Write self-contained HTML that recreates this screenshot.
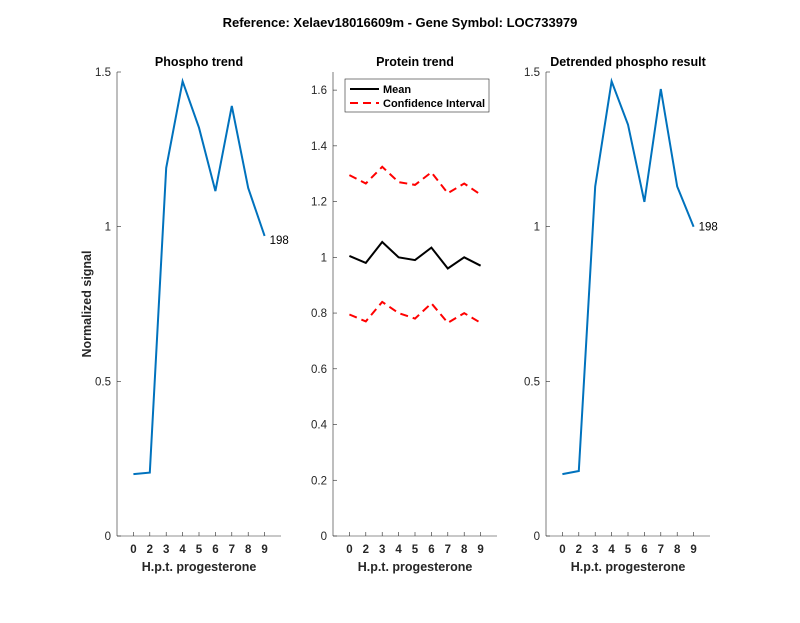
<!DOCTYPE html>
<html><head><meta charset="utf-8"><style>
body{margin:0;background:#fff}
svg text{font-family:"Liberation Sans",Arial,sans-serif}
</style></head><body>
<svg id="s" width="800" height="618" viewBox="0 0 800 618" xmlns="http://www.w3.org/2000/svg">
<rect width="800" height="618" fill="#fff"/>
<text x="400" y="27" font-size="13" font-weight="bold" text-anchor="middle" fill="#000">Reference:  Xelaev18016609m - Gene Symbol:  LOC733979</text>
</svg>
<script>
var s=document.getElementById('s'),NS='http://www.w3.org/2000/svg';
function el(t,a,txt){var e=document.createElementNS(NS,t);for(var k in a)e.setAttribute(k,a[k]);if(txt!=null)e.textContent=txt;s.appendChild(e);return e;}
var labs=['0','2','3','4','5','6','7','8','9'];
function axes(x0,ymax,yticks,title,fmt){
  var w=164,y0=536,top=72,sx=w/10,sy=(y0-top)/ymax;
  el('line',{x1:x0,y1:top,x2:x0,y2:y0,stroke:'#262626','stroke-width':0.6});
  el('line',{x1:x0,y1:y0,x2:x0+w,y2:y0,stroke:'#262626','stroke-width':0.6});
  yticks.forEach(function(v){var y=y0-v*sy;
    el('line',{x1:x0,y1:y,x2:x0+4,y2:y,stroke:'#262626','stroke-width':0.6});
    el('text',{x:x0-6,y:y+4,'font-size':11.5,'text-anchor':'end',fill:'#262626'},fmt(v));});
  for(var i=0;i<9;i++){var x=x0+(i+1)*sx;
    el('line',{x1:x,y1:y0,x2:x,y2:y0-4,stroke:'#262626','stroke-width':0.6});
    el('text',{x:x,y:y0+17,'font-size':11.5,'font-weight':'bold','text-anchor':'middle',fill:'#262626'},labs[i]);}
  el('text',{x:x0+w/2,y:y0+35,'font-size':12.5,'font-weight':'bold','text-anchor':'middle',fill:'#262626'},'H.p.t. progesterone');
  el('text',{x:x0+w/2,y:66,'font-size':12.5,'font-weight':'bold','text-anchor':'middle',fill:'#000'},title);
  return function(d,a){var p=d.map(function(v,i){return (x0+(i+1)*sx).toFixed(1)+','+(y0-v*sy).toFixed(1)}).join(' ');
    var o={points:p,fill:'none','stroke-width':2,'stroke-linejoin':'miter'};for(var k in a)o[k]=a[k];el('polyline',o);
    return [x0+9*sx,y0-d[8]*sy];};
}
function f1(v){return v===0?'0':(v===1?'1':v.toString())}
var p1=axes(117,1.5,[0,0.5,1,1.5],'Phospho trend',f1);
var e=p1([0.2,0.205,1.19,1.47,1.32,1.115,1.39,1.125,0.97],{stroke:'#0072BD'});
el('text',{x:e[0]+5,y:e[1]+8,'font-size':11.5,fill:'#000'},'198');
el('text',{x:0,y:0,'font-size':12.5,'font-weight':'bold','text-anchor':'middle',fill:'#262626',transform:'translate(91,304) rotate(-90)'},'Normalized signal');
var p2=axes(333,1.665,[0,0.2,0.4,0.6,0.8,1,1.2,1.4,1.6],'Protein trend',function(v){return v===0?'0':(v===1?'1':v.toFixed(1))});
p2([1.295,1.265,1.325,1.27,1.26,1.305,1.23,1.265,1.225],{stroke:'#FF0000','stroke-dasharray':'8,5'});
p2([0.795,0.77,0.84,0.80,0.78,0.835,0.765,0.80,0.765],{stroke:'#FF0000','stroke-dasharray':'8,5'});
p2([1.005,0.98,1.055,1.0,0.99,1.035,0.96,1.0,0.97],{stroke:'#000'});
el('rect',{x:345,y:79,width:144,height:33,fill:'#fff',stroke:'#262626','stroke-width':0.6});
el('line',{x1:350,y1:89,x2:379,y2:89,stroke:'#000','stroke-width':2});
el('line',{x1:350,y1:103,x2:379,y2:103,stroke:'#FF0000','stroke-width':2,'stroke-dasharray':'8,5'});
el('text',{x:383,y:93,'font-size':11,'font-weight':'bold',fill:'#000'},'Mean');
el('text',{x:383,y:107,'font-size':11,'font-weight':'bold',fill:'#000'},'Confidence Interval');
var p3=axes(546,1.5,[0,0.5,1,1.5],'Detrended phospho result',f1);
e=p3([0.2,0.21,1.13,1.47,1.33,1.08,1.445,1.13,1.0],{stroke:'#0072BD'});
el('text',{x:e[0]+5,y:e[1]+4,'font-size':11.5,fill:'#000'},'198');
</script>
</body></html>
